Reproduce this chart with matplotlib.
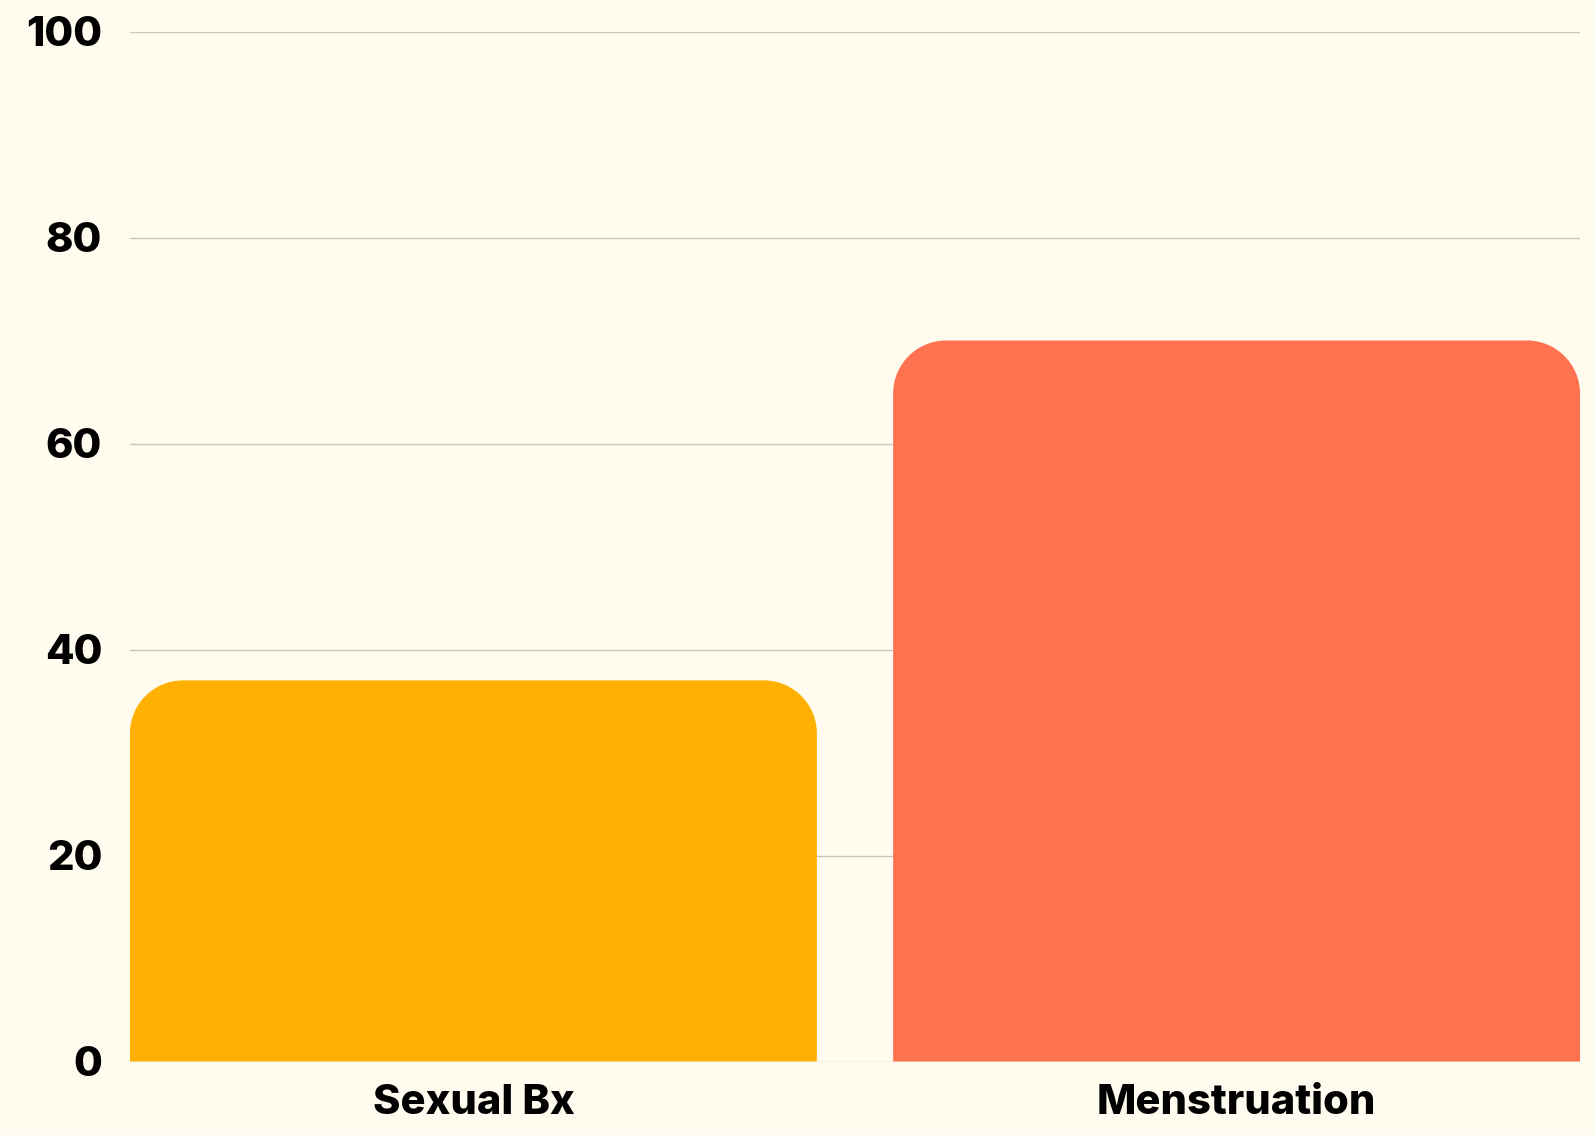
import matplotlib
matplotlib.use("Agg")
import matplotlib.pyplot as plt
from matplotlib.path import Path
from matplotlib.patches import PathPatch

categories = ["Sexual Bx", "Menstruation"]
values = [37, 70]
colors = ["#FFB000", "#FF7250"]
yticks = [0, 20, 40, 60, 80, 100]

BG = "#FFFBEE"
W, H, DPI = 1595, 1135, 100
plt.rcParams['font.family'] = ['Inter', 'DejaVu Sans']

fig = plt.figure(figsize=(W / DPI, H / DPI), dpi=DPI, facecolor=BG)
ax = fig.add_axes([130 / W, 1 - 1061.5 / H, 1450 / W, 1030 / H], facecolor=BG)

bar_w = 0.9
xs = list(range(len(categories)))
bars = ax.bar(xs, values, width=bar_w, color=colors, zorder=2)
ax.set_xlim(-bar_w / 2, len(categories) - 1 + bar_w / 2)
ax.set_ylim(0, 100)

# replace bars with top-rounded versions (radius in pixels)
fig.canvas.draw()
r_px = 53
ax_bbox = ax.get_window_extent()
x0, x1 = ax.get_xlim()
y0, y1 = ax.get_ylim()
rx = r_px * (x1 - x0) / ax_bbox.width
ry = r_px * (y1 - y0) / ax_bbox.height
k = 0.5523
for b, c in zip(bars, colors):
    left, bottom = b.get_x(), b.get_y()
    right, top = left + b.get_width(), bottom + b.get_height()
    verts = [
        (left, bottom), (left, top - ry),
        (left, top - ry + k * ry), (left + rx - k * rx, top), (left + rx, top),
        (right - rx, top),
        (right - rx + k * rx, top), (right, top - ry + k * ry), (right, top - ry),
        (right, bottom), (left, bottom),
    ]
    codes = [Path.MOVETO, Path.LINETO,
             Path.CURVE4, Path.CURVE4, Path.CURVE4,
             Path.LINETO,
             Path.CURVE4, Path.CURVE4, Path.CURVE4,
             Path.LINETO, Path.CLOSEPOLY]
    ax.add_patch(PathPatch(Path(verts, codes), facecolor=c, edgecolor='none', zorder=2))
    b.set_visible(False)

ax.set_yticks(yticks)
ax.set_yticklabels([str(t) for t in yticks])
ax.set_xticks(xs)
ax.set_xticklabels(categories)
ax.grid(axis='y', color='#C9C8C0', linewidth=1.0, zorder=0)
ax.set_axisbelow(True)
for s in ax.spines.values():
    s.set_visible(False)
ax.tick_params(axis='both', length=0, labelsize=30, colors='#000000')
ax.tick_params(axis='y', pad=20)
ax.tick_params(axis='x', pad=16)
for lab in ax.get_xticklabels() + ax.get_yticklabels():
    lab.set_fontweight(800)

fig.savefig("out.png", dpi=DPI, facecolor=BG)
